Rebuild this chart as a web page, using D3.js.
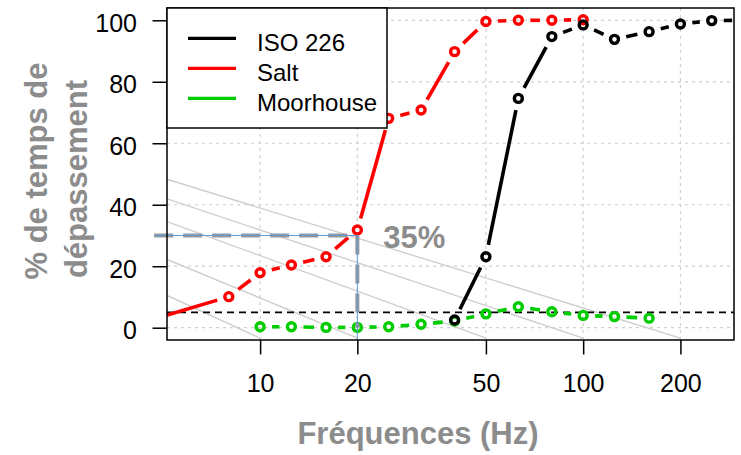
<!DOCTYPE html>
<html>
<head>
<meta charset="utf-8">
<script src="https://cdn.jsdelivr.net/npm/d3@7"></script>
<style>
  body { margin: 0; background: #fff; }
  svg { display: block; font-family: "Liberation Sans", Arial, sans-serif; }
</style>
</head>
<body>
<div id="chart"></div>
<script>
// donnees (Hz, % de temps de depassement)
var isoFreq = [40, 50, 63, 80, 100, 125, 160, 200, 250, 315];
var isoVal = [2.5, 23.1, 74.6, 94.7, 98.5, 93.8, 96.3, 98.8, 99.9, 100];

var saltFreq = [4, 8, 10, 12.5, 16, 20, 25, 31.5, 40, 50, 63, 80, 100];
var saltVal = [0.6, 10.1, 17.9, 20.4, 23.1, 31.8, 68.1, 70.8, 89.8, 99.6, 100, 100, 100.2];

var moorFreq = [10, 12.5, 16, 20, 25, 31.5, 40, 50, 63, 80, 100, 125, 160];
var moorVal = [0.3, 0.3, 0.1, 0.1, 0.3, 1.1, 2.2, 4.5, 6.8, 5.2, 4.0, 3.6, 3.1];

// droites grises : valeur au bord gauche, frequence ou elles touchent le bas
var isoLineEnd = [10, 20, 50, 100, 200];
var isoLineStart = [10.5, 22.2, 34.5, 41.9, 48.3];
var isoLineBottom = -3.4;

var xTicks = [10, 20, 50, 100, 200];
var yTicks = [0, 20, 40, 60, 80, 100];
var seuil = 5;
var repere = {f0: 4.7, f: 20, v: 30};
var labelFreq = 30, labelVal = 26;

var series = [
  {name: "ISO 226", f: isoFreq, v: isoVal, color: "#000000"},
  {name: "Salt", f: saltFreq, v: saltVal, color: "#ff0000"},
  {name: "Moorhouse", f: moorFreq, v: moorVal, color: "#00cd00"}
];

var W = 741, H = 455,
    pL = 167, pR = 734, pT = 8, pB = 340;

var x = d3.scaleLog().domain([5.15, 293]).range([pL, pR]);
var y = d3.scaleLinear().domain([-4, 104]).range([pB, pT]);

var svg = d3.select("#chart").append("svg")
    .attr("width", W).attr("height", H);

svg.append("clipPath").attr("id", "plot")
  .append("rect")
    .attr("x", pL).attr("y", pT)
    .attr("width", pR - pL).attr("height", pB - pT);

var plot = svg.append("g").attr("clip-path", "url(#plot)");

// grille pointillee
plot.selectAll("line.gx").data(xTicks).enter().append("line")
    .attr("x1", x).attr("x2", x).attr("y1", pT).attr("y2", pB)
    .attr("stroke", "#cfcfcf").attr("stroke-width", 1.2).attr("stroke-dasharray", "3,4");
plot.selectAll("line.gy").data(yTicks).enter().append("line")
    .attr("y1", y).attr("y2", y).attr("x1", pL).attr("x2", pR)
    .attr("stroke", "#cfcfcf").attr("stroke-width", 1.2).attr("stroke-dasharray", "3,4");

// faisceau de droites grises
plot.selectAll("line.iso").data(isoLineEnd).enter().append("line")
    .attr("x1", x(x.domain()[0]))
    .attr("y1", function(d, i) { return y(isoLineStart[i]); })
    .attr("x2", function(d) { return x(d); })
    .attr("y2", y(isoLineBottom))
    .attr("stroke", "#cccccc").attr("stroke-width", 1.3);

// repere 20 Hz / 30 %
svg.append("line")
    .attr("x1", x(repere.f0)).attr("x2", x(repere.f))
    .attr("y1", y(repere.v)).attr("y2", y(repere.v))
    .attr("stroke", "#999999").attr("stroke-width", 4).attr("stroke-dasharray", "19,10");
svg.append("line")
    .attr("x1", x(repere.f)).attr("x2", x(repere.f))
    .attr("y1", y(repere.v)).attr("y2", y(0))
    .attr("stroke", "#999999").attr("stroke-width", 4).attr("stroke-dasharray", "19,10");
svg.append("path")
    .attr("d", "M" + x(repere.f0) + "," + y(repere.v) + "H" + x(repere.f) + "V" + pB)
    .attr("fill", "none").attr("stroke", "#5b9bd5").attr("stroke-width", 1);

// seuil 5 %
plot.append("line")
    .attr("x1", pL).attr("x2", pR).attr("y1", y(seuil)).attr("y2", y(seuil))
    .attr("stroke", "#000").attr("stroke-width", 1.6).attr("stroke-dasharray", "7,5");

// courbes type "b" : segments interrompus autour des points
var gap = 12;
function drawSeries(s) {
  var g = plot.append("g");
  var pts = s.f.map(function(f, i) { return [x(f), y(s.v[i])]; });
  for (var i = 0; i < pts.length - 1; i++) {
    var a = pts[i], b = pts[i + 1];
    var dx = b[0] - a[0], dy = b[1] - a[1], len = Math.sqrt(dx * dx + dy * dy);
    if (len <= 2 * gap) continue;
    var ux = dx / len, uy = dy / len;
    g.append("line")
        .attr("x1", a[0] + ux * gap).attr("y1", a[1] + uy * gap)
        .attr("x2", b[0] - ux * gap).attr("y2", b[1] - uy * gap)
        .attr("stroke", s.color).attr("stroke-width", 3.6);
  }
  g.selectAll("circle").data(pts).enter().append("circle")
      .attr("cx", function(d) { return d[0]; })
      .attr("cy", function(d) { return d[1]; })
      .attr("r", 4)
      .attr("fill", "none").attr("stroke", s.color).attr("stroke-width", 3.4);
}
drawSeries(series[1]);
drawSeries(series[2]);
drawSeries(series[0]);

// cadre
svg.append("rect")
    .attr("x", pL).attr("y", pT)
    .attr("width", pR - pL).attr("height", pB - pT)
    .attr("fill", "none").attr("stroke", "#000").attr("stroke-width", 1.5);

// axes
var xAxis = svg.append("g")
    .attr("transform", "translate(0," + pB + ")")
    .call(d3.axisBottom(x).tickValues(xTicks).tickFormat(d3.format("d"))
      .tickSize(14.5).tickPadding(19.5));
var yAxis = svg.append("g")
    .attr("transform", "translate(" + pL + ",0)")
    .call(d3.axisLeft(y).tickValues(yTicks).tickSize(14.5).tickPadding(15.5));

[xAxis, yAxis].forEach(function(a) {
  a.select(".domain").remove();
  a.selectAll(".tick line").attr("stroke", "#000").attr("stroke-width", 1.5);
  a.selectAll(".tick text").attr("fill", "#000")
      .style("font-size", "25px").style("font-family", "Liberation Sans, Arial, sans-serif");
});
yAxis.selectAll(".tick text").attr("dy", "0.44em");

// legende
var leg = svg.append("g");
leg.append("rect")
    .attr("x", pL).attr("y", pT).attr("width", 220).attr("height", 120)
    .attr("fill", "#fff").attr("stroke", "#000").attr("stroke-width", 1.5);
series.forEach(function(s, i) {
  var ly = 38.3 + i * 30;
  leg.append("line")
      .attr("x1", 188).attr("x2", 236).attr("y1", ly).attr("y2", ly)
      .attr("stroke", s.color).attr("stroke-width", 3.2);
  leg.append("text")
      .attr("x", 257).attr("y", ly + 13)
      .style("font-size", "24px")
      .text(s.name);
});

// textes gris
var grey = "#8c8c8c";
svg.append("text")
    .attr("x", x(labelFreq)).attr("y", y(labelVal))
    .attr("text-anchor", "middle")
    .attr("fill", grey).style("font-size", "31px").style("font-weight", "bold")
    .text("35%");

svg.append("text")
    .attr("x", 418).attr("y", 444)
    .attr("text-anchor", "middle")
    .attr("fill", grey).style("font-size", "31px").style("font-weight", "bold")
    .text("Fréquences (Hz)");

svg.append("text")
    .attr("transform", "translate(47,171) rotate(-90)")
    .attr("text-anchor", "middle")
    .attr("fill", grey).style("font-size", "31px").style("font-weight", "bold")
    .text("% de temps de");
svg.append("text")
    .attr("transform", "translate(87,179) rotate(-90)")
    .attr("text-anchor", "middle")
    .attr("fill", grey).style("font-size", "31px").style("font-weight", "bold")
    .text("dépassement");
</script>
</body>
</html>
